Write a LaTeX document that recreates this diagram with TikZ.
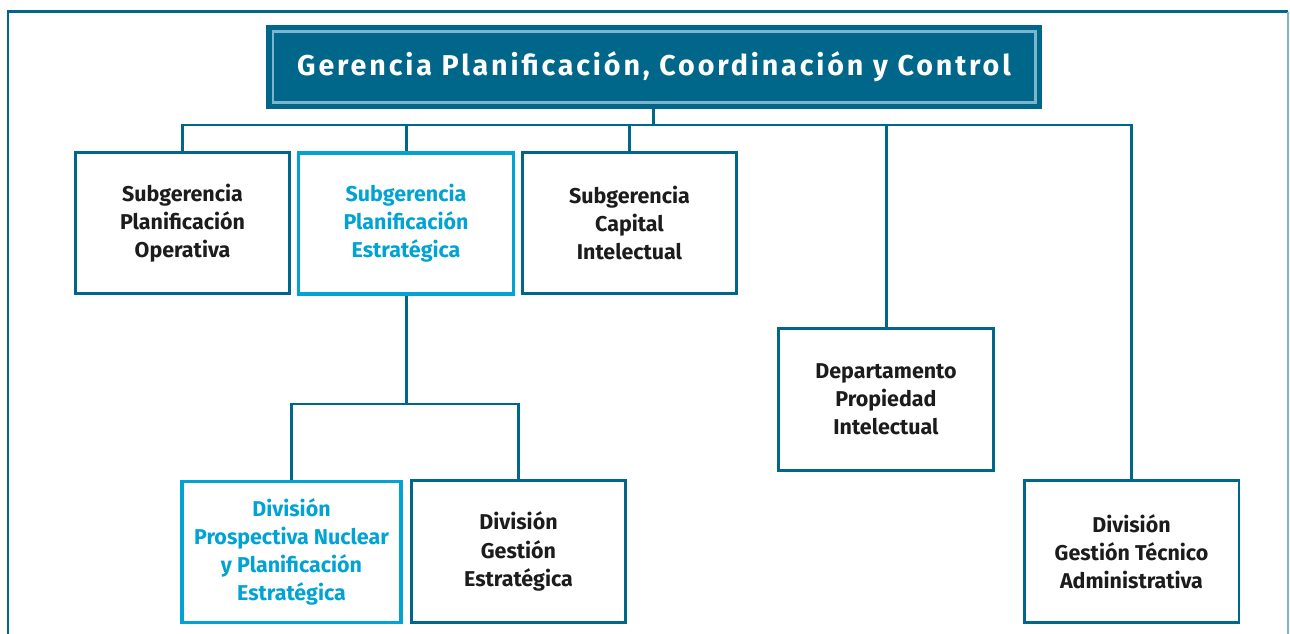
\documentclass[tikz,border=0pt]{standalone}
\usepackage{fontspec}
\setmainfont{Fira Sans}
\newfontfamily\titlefont[LetterSpace=10]{Fira Sans}
\usetikzlibrary{positioning}
\definecolor{tealdark}{HTML}{00678A}
\definecolor{teallight}{HTML}{7DB5CE}
\definecolor{cyanhi}{HTML}{00A3D4}
\definecolor{textdark}{HTML}{1C1C1C}

\tikzset{
  unit/.style={draw=tealdark, line width=1.7pt, fill=white, align=center,
    minimum width=4.3cm, minimum height=2.83cm, inner sep=2pt,
    text=textdark, font=\fontsize{12.2}{16}\selectfont\bfseries},
  hiunit/.style={unit, draw=cyanhi, text=cyanhi, line width=2pt},
  link/.style={draw=tealdark, line width=1.7pt},
}

\begin{document}
\begin{tikzpicture}[x=0.02cm, y=-0.02cm]
        \useasboundingbox (0,0) rectangle (1290,634);
        % outer frame
        \draw[tealdark, line width=1.7pt] (8,640) -- (8,12) -- (1288,12);
        \draw[teallight, line width=0.8pt] (1288,12) -- (1288,640);

        % head box
        \node[fill=tealdark, draw=tealdark, line width=1pt, minimum width=15.5cm, minimum height=1.66cm,
              text=white, font=\titlefont\fontsize{16.3}{18}\selectfont\bfseries] (gcc) at (654,67)
              {Gerencia Planificación, Coordinación y Control};
        \draw[teallight, line width=1.4pt] ([shift={(4pt,4pt)}]gcc.south west) rectangle ([shift={(-4pt,-4pt)}]gcc.north east);

        % first level
        \node[unit] (spo) at (182.5,223) {Subgerencia\\Planificación\\Operativa};
        \node[hiunit] (spe) at (406,223.5) {Subgerencia\\Planificación\\Estratégica};
        \node[unit] (sci) at (629.5,223) {Subgerencia\\Capital\\Intelectual};
        \node[unit] (dpi) at (886,399.5) {Departamento\\Propiedad\\Intelectual};
        \node[unit] (dgta) at (1131.5,551.5) {División\\Gestión Técnico\\Administrativa};

        % second level
        \node[hiunit, minimum width=4.38cm] (dpn) at (291.5,552) {División\\Prospectiva Nuclear\\y Planificación\\Estratégica};
        \node[unit] (dge) at (518.5,551.5) {División\\Gestión\\Estratégica};

        % connectors
        \coordinate (bar) at (653,125);
        \coordinate (sub) at (405,404);
        \draw[link] (gcc.south -| bar) -- (bar);
        \draw[link] (spo.north) |- (dgta.north |- bar) -- (dgta.north);
        \foreach \n in {spe,sci,dpi}
        \draw[link] (\n.north) -- (\n.north |- bar);
        \draw[link] (spe.south) -- (spe.south |- sub);
        \draw[link] (dpn.north) |- (dge.north |- sub) -- (dge.north);
\end{tikzpicture}
\end{document}
